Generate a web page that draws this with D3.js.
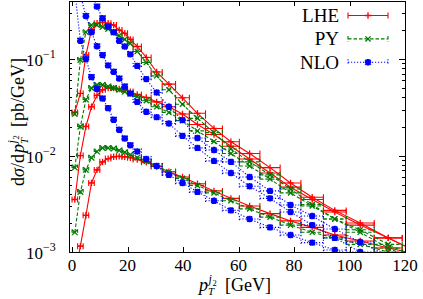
<!DOCTYPE html>
<html><head><meta charset="utf-8">
<script src="https://cdn.jsdelivr.net/npm/d3@7"></script>
<style>body{margin:0;background:#fff}svg{display:block}</style>
</head><body><svg id="c" width="423" height="299"></svg>
<script>
// bins (GeV)
const binLow  = [0,2,4,6,8,10,12,14,16,18,20,22,25,28.5,32.5,37.3,42.3,48.1,54.2,60.3,67.7,75,82.5,90.6,98.8,108.9,119];
const binHigh = [2,4,6,8,10,12,14,16,18,20,22,25,28.5,32.5,37.3,42.3,48.1,54.2,60.3,67.7,75,82.5,90.6,98.8,108.9,119,130];
const xMid    = [1,3,5,7,9,11,13,15,17,19,21,23.5,26.75,30.5,34.9,39.8,45.2,51.15,57.25,64,71.35,78.75,86.55,94.7,103.85,113.95,124.5];

// group A (upper)
const lheA = [0.028,0.044,0.11,0.2,0.235,0.24,0.235,0.225,0.2,0.185,0.16,0.135,0.104,0.0735,0.055,0.0397,0.0274,0.0191,0.0139,0.0105,0.0075,0.0052,0.0037,0.0027,0.002,0.0014,0.001];
const pyA  = [0.027,0.098,0.19,0.225,0.225,0.215,0.205,0.19,0.175,0.16,0.145,0.12,0.092,0.067,0.048,0.034,0.0243,0.0173,0.0117,0.0086,0.0063,0.0045,0.0031,0.0022,0.0017,0.0012,0.00085];
const nloA = [4,2,1,0.5,0.35,0.265,0.217,0.19,0.155,0.135,0.112,0.085,0.062,0.045,0.032,0.0233,0.0152,0.0114,0.0086,0.006,0.0043,0.00307,0.00236,0.00173,0.00127,0.0009,0.00065];
// group B (middle)
const lheB = [0.0035,0.01,0.02,0.032,0.042,0.048,0.05,0.05,0.049,0.048,0.046,0.043,0.04,0.036,0.032,0.027,0.021,0.0165,0.0125,0.0092,0.0066,0.0047,0.0035,0.0026,0.0019,0.0014,0.001];
const pyB  = [0.0075,0.02,0.038,0.05,0.054,0.054,0.052,0.05,0.048,0.046,0.044,0.041,0.037,0.032,0.028,0.023,0.018,0.014,0.0105,0.0078,0.0057,0.0041,0.003,0.0022,0.0016,0.0011,0.0008];
const nloB = [1.5,0.46,0.28,0.19,0.136,0.11,0.086,0.074,0.063,0.052,0.044,0.036,0.0284,0.025,0.0215,0.016,0.012,0.0088,0.0066,0.0048,0.0036,0.0026,0.0019,0.0014,0.001,0.00075,0.00055];
// group C (lower)
const lheC = [0.0006,0.00115,0.0024,0.0052,0.0071,0.0086,0.0093,0.0097,0.0098,0.0097,0.0095,0.0091,0.0085,0.0077,0.0068,0.006,0.0051,0.0043,0.0036,0.003,0.0025,0.0021,0.0018,0.0015,0.0013,0.0011,0.00095];
const pyC  = [0.0016,0.0042,0.0071,0.0095,0.011,0.012,0.012,0.0118,0.0113,0.0108,0.0102,0.0095,0.0087,0.0078,0.0068,0.0058,0.0049,0.0041,0.0034,0.0028,0.0023,0.0019,0.0016,0.0014,0.0012,0.001,0.0009];
const nloC = [0.5,0.155,0.1,0.065,0.049,0.039,0.031,0.0235,0.0185,0.015,0.0128,0.011,0.0092,0.0078,0.0063,0.0052,0.0042,0.0034,0.0027,0.0022,0.0018,0.0015,0.00125,0.00105,0.0009,0.00075,0.00065];

const xTicks = [0,20,40,60,80,100,120];
const yTicks = [1e-3,1e-2,1e-1];
const yTickExp = ["−3","−2","−1"];
const legendNames = ["LHE","PY","NLO"];

const W=423,H=299, L=69,R=405,T=1,B=252;
const svg=d3.select("#c");
svg.append("rect").attr("width",W).attr("height",H).attr("fill","#fff");
const x=d3.scaleLinear().domain([-1.1,120]).range([L,R]);
const y=d3.scaleLog().domain([1e-3,0.4]).range([B,T]);
const font="'Liberation Serif','Times New Roman',serif";
const FS=17, FT=18;

svg.append("clipPath").attr("id","pc").append("rect").attr("x",L).attr("y",T).attr("width",R-L).attr("height",B-T);
const plot=svg.append("g").attr("clip-path","url(#pc)");

const series=[
 {vals:[lheA,lheB,lheC],color:"#ff0000",dash:null,mark:"plus"},
 {vals:[pyA,pyB,pyC],color:"#007a00",dash:"3.5,2",mark:"cross"},
 {vals:[nloA,nloB,nloC],color:"#0000ff",dash:"1.2,1.8",mark:"star"}
];
function marker(g,cx,cy,type,color){
  const s=3.2;
  let d="";
  if(type==="plus"||type==="star") d+=`M${cx-s},${cy}H${cx+s}M${cx},${cy-s}V${cy+s}`;
  if(type==="cross"||type==="star") d+=`M${cx-s*0.8},${cy-s*0.8}L${cx+s*0.8},${cy+s*0.8}M${cx-s*0.8},${cy+s*0.8}L${cx+s*0.8},${cy-s*0.8}`;
  g.append("path").attr("d",d).attr("stroke",color).attr("stroke-width",type==="star"?2.0:1.3).attr("fill","none");
}
series.forEach(s=>{
  s.vals.forEach(vals=>{
    const pts=xMid.map((xv,i)=>({x:xv,y:vals[i],lo:binLow[i],hi:binHigh[i]})).filter(p=>p.y!=null);
    const line=d3.line().x(p=>x(p.x)).y(p=>y(p.y));
    plot.append("path").attr("d",line(pts)).attr("fill","none").attr("stroke",s.color).attr("stroke-width",1.1).attr("stroke-dasharray",s.dash);
    pts.forEach(p=>{
      const cy=y(p.y);
      plot.append("path").attr("d",`M${x(p.lo)},${cy}H${x(p.hi)}M${x(p.lo)},${cy-3}V${cy+3}M${x(p.hi)},${cy-3}V${cy+3}`)
        .attr("stroke",s.color).attr("stroke-width",1.1).attr("fill","none").attr("stroke-dasharray",s.dash);
      marker(plot,x(p.x),cy,s.mark,s.color);
    });
  });
});

// frame and ticks
const ax=svg.append("g").attr("stroke","#000").attr("stroke-width",1).attr("shape-rendering","crispEdges");
ax.append("rect").attr("x",L+0.5).attr("y",T+0.5).attr("width",R-L).attr("height",B-T).attr("fill","none");
xTicks.forEach(t=>{
  const px=Math.round(x(t))+0.5;
  ax.append("line").attr("x1",px).attr("x2",px).attr("y1",B).attr("y2",B-5);
  ax.append("line").attr("x1",px).attr("x2",px).attr("y1",T).attr("y2",T+5);
  svg.append("text").attr("x",x(t)).attr("y",B+19).attr("text-anchor","middle").attr("font-family",font).attr("font-size",FS).text(t);
});
const minor=[];
yTicks.forEach(d=>{for(let k=2;k<=9;k++){ if(d*k<=0.4) minor.push(d*k);} });
yTicks.forEach((t,i)=>{
  const py=Math.round(y(t))+0.5;
  ax.append("line").attr("x1",L).attr("x2",L+6).attr("y1",py).attr("y2",py);
  ax.append("line").attr("x1",R).attr("x2",R-6).attr("y1",py).attr("y2",py);
  svg.append("text").attr("x",L-26).attr("y",y(t)+7).attr("text-anchor","end").attr("font-family",font).attr("font-size",FS).text("10");
  svg.append("text").attr("x",L-26).attr("y",y(t)-1).attr("text-anchor","start").attr("font-family",font).attr("font-size",12).text(yTickExp[i]);
});
minor.forEach(t=>{
  const py=Math.round(y(t))+0.5;
  ax.append("line").attr("x1",L).attr("x2",L+3).attr("y1",py).attr("y2",py);
  ax.append("line").attr("x1",R).attr("x2",R-3).attr("y1",py).attr("y2",py);
});

// p_T^{j2}
function pT(g,x0,base){
  g.append("text").attr("x",x0).attr("y",base).attr("font-family",font).attr("font-style","italic").attr("font-size",FT).text("p");
  g.append("text").attr("x",x0+9.5).attr("y",base-8).attr("font-family",font).attr("font-style","italic").attr("font-size",12).text("j");
  g.append("text").attr("x",x0+13.5).attr("y",base-5.5).attr("font-family",font).attr("font-size",8.5).text("2");
  g.append("text").attr("x",x0+9).attr("y",base+4).attr("font-family",font).attr("font-style","italic").attr("font-size",11).text("T");
}
const xt=svg.append("g");
pT(xt,199,291);
xt.append("text").attr("x",225).attr("y",291).attr("font-family",font).attr("font-size",FT).text("[GeV]");

const yt=svg.append("g").attr("transform","translate(24,186) rotate(-90)");
const d1=yt.append("text").attr("x",0).attr("y",0).attr("font-family",font).attr("font-size",FT);
d1.append("tspan").text("d");
d1.append("tspan").attr("font-style","italic").text("σ");
d1.append("tspan").text("/d");
pT(yt,33,0);
yt.append("text").attr("x",59).attr("y",0).attr("font-family",font).attr("font-size",FT).text("[pb/GeV]");

// legend
legendNames.forEach((n,i)=>{
  const ly=15.5+i*23.4, s=series[i];
  svg.append("text").attr("x",339).attr("y",ly+6.5).attr("text-anchor","end").attr("font-family",font).attr("font-size",19).text(n);
  const g=svg.append("g");
  g.append("path").attr("d",`M348,${ly}H388M348,${ly-3}V${ly+3}M388,${ly-3}V${ly+3}`).attr("stroke",s.color).attr("stroke-width",1.1).attr("fill","none").attr("stroke-dasharray",s.dash);
  marker(g,368,ly,s.mark,s.color);
});
</script></body></html>
